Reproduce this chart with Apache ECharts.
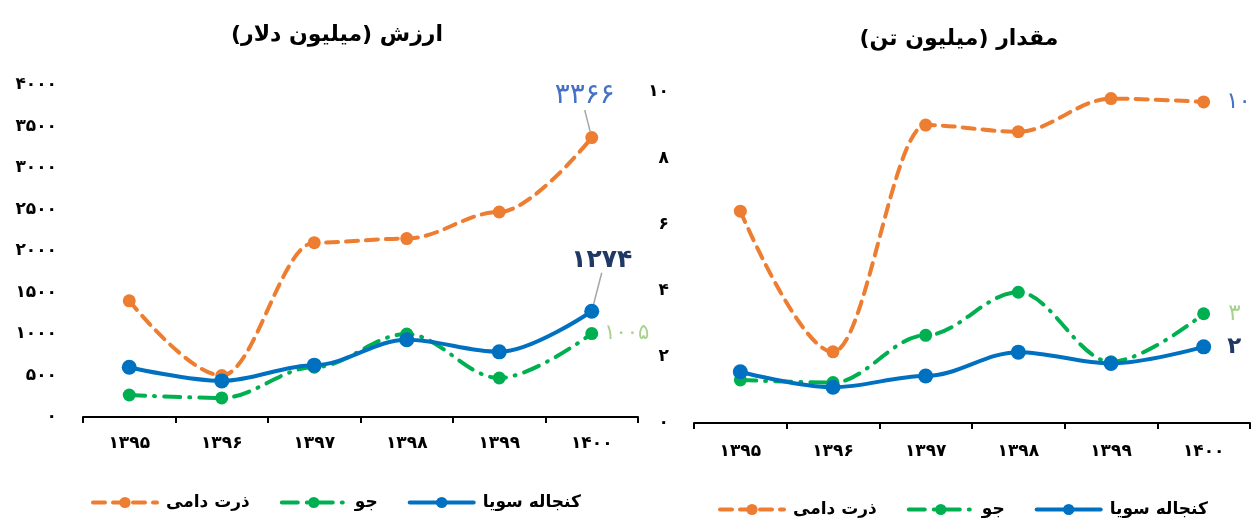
<!DOCTYPE html>
<html>
<head>
<meta charset="utf-8">
<script src="https://cdn.jsdelivr.net/npm/echarts@6/dist/echarts.min.js"></script>
<style>
html,body{margin:0;padding:0;background:#fff;}
#c{width:1255px;height:518px;}
</style>
</head>
<body>
<div id="c"></div>
<script>
// ---- data ----
const categories = ['۱۳۹۵','۱۳۹۶','۱۳۹۷','۱۳۹۸','۱۳۹۹','۱۴۰۰'];
const seriesNames = ['ذرت دامی','جو','کنجاله سویا'];
// value (million dollars)
const valueCorn    = [1400, 500, 2100, 2150, 2470, 3366];
const valueBarley  = [265, 230, 600, 1000, 470, 1005];
const valueSoy     = [600, 435, 625, 930, 785, 1274];
// quantity (million tons)
const qtyCorn      = [6.4, 2.15, 9.0, 8.8, 9.8, 9.7];
const qtyBarley    = [1.3, 1.22, 2.65, 3.95, 1.85, 3.3];
const qtySoy       = [1.55, 1.08, 1.42, 2.14, 1.8, 2.3];
const endLabelsValue = ['۳۳۶۶','۱۰۰۵','۱۲۷۴'];
const endLabelsQty   = ['۱۰','۳','۲'];
const titleValue = 'ارزش (میلیون دلار)';
const titleQty   = 'مقدار (میلیون تن)';

const FA = '۰۱۲۳۴۵۶۷۸۹';
function toFa(v){ return String(v).replace(/\d/g, d => FA[+d]); }
const RLM = '\u200F';
const FONT = 'DejaVu Sans';

const colors = ['#ED7D31','#00B050','#0070C0'];
const lineTypes = [[12,8],[16,9,1,9],'solid'];
const symSizes = [13, 13, 15];

function mkSeries(idx, values, gridIdx, label, labelStyle, layout){
  const last = values.length - 1;
  return {
    name: seriesNames[idx],
    type: 'line',
    xAxisIndex: gridIdx, yAxisIndex: gridIdx,
    smooth: 0.35,
    smoothMonotone: 'x',
    symbol: 'circle',
    symbolSize: symSizes[idx],
    z: idx === 2 ? 5 : 3,
    itemStyle: {color: colors[idx]},
    lineStyle: {color: colors[idx], width: 4, type: lineTypes[idx], cap: 'round'},
    data: values.map((v,i) => i === last ? {
      value: v,
      label: Object.assign({show: true, formatter: () => label, fontFamily: FONT}, labelStyle)
    } : v),
    labelLine: layout ? {show: true, lineStyle: {color: '#A6A6A6', width: 1.5}} : {show:false},
    labelLayout: layout || undefined
  };
}

const axisLabelY = {fontFamily: FONT, fontWeight: 'bold', fontSize: 17, color: '#000', formatter: v => toFa(v)};
const axisLabelX = {fontFamily: FONT, fontWeight: 'bold', fontSize: 17, color: '#000'};
const legendText = {fontFamily: FONT, fontWeight: 'bold', fontSize: 17, color: '#000', padding: [0, 0, 0, 4]};

const option = {
  animation: false,
  textStyle: {fontFamily: FONT},
  title: [
    {text: RLM + titleValue + RLM, left: 332, top: 19, textAlign: 'center',
     textStyle: {fontFamily: FONT, fontWeight: 'bold', fontSize: 22, color: '#000'}},
    {text: RLM + titleQty + RLM, left: 954, top: 23, textAlign: 'center',
     textStyle: {fontFamily: FONT, fontWeight: 'bold', fontSize: 22, color: '#000'}}
  ],
  legend: [
    {left: 86, top: 489, itemWidth: 64, itemHeight: 14, itemGap: 30, data: seriesNames,
     lineStyle: {width: 4}, textStyle: legendText},
    {left: 713, top: 496, itemWidth: 64, itemHeight: 14, itemGap: 30, data: seriesNames,
     lineStyle: {width: 4}, textStyle: legendText}
  ],
  grid: [
    {left: 83, top: 85, width: 555, height: 332},
    {left: 694, top: 92, width: 556, height: 331}
  ],
  xAxis: [
    {type: 'category', gridIndex: 0, data: categories, boundaryGap: true,
     axisLine: {lineStyle: {color: '#000', width: 2}},
     axisTick: {show: true, length: 6, lineStyle: {color: '#000', width: 2}},
     axisLabel: Object.assign({margin: 18}, axisLabelX)},
    {type: 'category', gridIndex: 1, data: categories, boundaryGap: true,
     axisLine: {lineStyle: {color: '#000', width: 2}},
     axisTick: {show: true, length: 6, lineStyle: {color: '#000', width: 2}},
     axisLabel: Object.assign({margin: 20}, axisLabelX)}
  ],
  yAxis: [
    {type: 'value', gridIndex: 0, min: 0, max: 4000, interval: 500,
     axisLine: {show: false}, axisTick: {show: false}, splitLine: {show: false},
     axisLabel: Object.assign({margin: 26}, axisLabelY)},
    {type: 'value', gridIndex: 1, min: 0, max: 10, interval: 2,
     axisLine: {show: false}, axisTick: {show: false}, splitLine: {show: false},
     axisLabel: Object.assign({margin: 25}, axisLabelY)}
  ],
  series: [
    mkSeries(0, valueCorn, 0, endLabelsValue[0],
      {position: 'top', distance: 5, fontSize: 28, color: '#4472C4'},
      {dx: -7, dy: -16}),
    mkSeries(1, valueBarley, 0, endLabelsValue[1],
      {position: 'right', distance: 6, fontSize: 21, color: '#A9D18E'}, null),
    mkSeries(2, valueSoy, 0, endLabelsValue[2],
      {position: 'top', distance: 5, fontSize: 25, fontWeight: 'bold', color: '#1F3864'},
      {dx: 10, dy: -26}),
    mkSeries(0, qtyCorn, 1, endLabelsQty[0],
      {position: 'right', distance: 16, fontSize: 23, color: '#4472C4'}, null),
    mkSeries(1, qtyBarley, 1, endLabelsQty[1],
      {position: 'right', distance: 18, fontSize: 23, color: '#A9D18E'}, null),
    mkSeries(2, qtySoy, 1, endLabelsQty[2],
      {position: 'right', distance: 16, fontSize: 23, fontWeight: 'bold', color: '#1F3864'}, null)
  ]
};

const chart = echarts.init(document.getElementById('c'), null, {renderer: 'canvas'});
chart.setOption(option);
</script>
</body>
</html>
